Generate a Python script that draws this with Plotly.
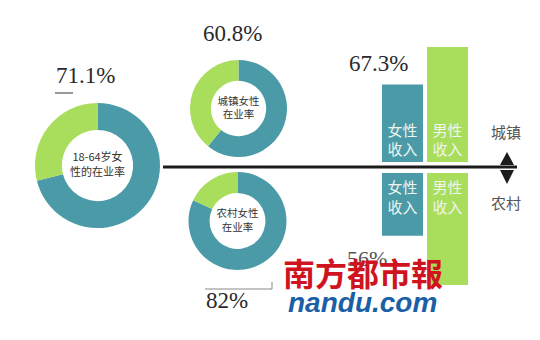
import plotly.graph_objects as go

# ---- data ----
overall_rate = [71.1, 28.9]      # 18-64岁女性在业率 (in work / not)
urban_rate = [60.8, 39.2]        # 城镇女性在业率
rural_rate = [82.0, 18.0]        # 农村女性在业率
income_cats = ["女性收入", "男性收入"]
income_text = ["女性<br>收入", "男性<br>收入"]
urban_income = [67.3, 100]       # 城镇 女性收入 / 男性收入 (%)
rural_income = [56.0, 100]       # 农村 女性收入 / 男性收入 (%)

TEAL = "#4b9aa8"
GREEN = "#a9dd5c"
W, H = 540, 340

def px(x):
    return x / W

def py(y):
    return 1 - y / H

fig = go.Figure()

def donut(vals, x0, x1, y0, y1, label, fs):
    fig.add_trace(go.Pie(
        values=vals, sort=False, direction="clockwise", rotation=0,
        hole=0.57, marker=dict(colors=[TEAL, GREEN], line=dict(width=0)),
        textinfo="none", hoverinfo="skip", showlegend=False,
        domain=dict(x=[px(x0), px(x1)], y=[py(y1), py(y0)]),
        title=dict(text=label, position="middle center",
                   font=dict(family="Noto Sans CJK SC", size=fs, color="#333"))))

donut(overall_rate, 35, 160, 103, 228, "18-64岁女<br>性的在业率", 11)
donut(urban_rate, 190, 287, 60, 157, "城镇女性<br>在业率", 10.5)
donut(rural_rate, 188, 287, 172, 270, "农村女性<br>在业率", 10.5)

bar_font = dict(family="Noto Sans CJK SC", size=15, color="#eef5ee")
fig.add_trace(go.Bar(
    x=income_cats, y=urban_income, marker=dict(color=[TEAL, GREEN], line=dict(width=0)),
    text=income_text, textposition="inside", insidetextanchor="start",
    textfont=bar_font, hoverinfo="skip", showlegend=False, xaxis="x", yaxis="y"))
fig.add_trace(go.Bar(
    x=income_cats, y=rural_income, marker=dict(color=[TEAL, GREEN], line=dict(width=0)),
    text=income_text, textposition="inside", insidetextanchor="start",
    textfont=bar_font, hoverinfo="skip", showlegend=False, xaxis="x2", yaxis="y2"))

hidden = dict(visible=False, showgrid=False, zeroline=False, fixedrange=True)
fig.update_layout(
    width=W, height=H, margin=dict(l=0, r=0, t=0, b=0),
    paper_bgcolor="white", plot_bgcolor="rgba(0,0,0,0)",
    bargap=4 / 45,
    xaxis=dict(domain=[px(380), px(470)], anchor="y", **hidden),
    yaxis=dict(domain=[py(162), 1], range=[0, 162 / 1.15], anchor="x", **hidden),
    xaxis2=dict(domain=[px(380), px(470)], anchor="y2", **hidden),
    yaxis2=dict(domain=[0, py(173)], range=[167 / 1.12, 0], anchor="x2", **hidden),
)

# divider line and arrows
fig.add_shape(type="line", xref="paper", yref="paper",
              x0=px(163), x1=px(517), y0=py(167), y1=py(167),
              line=dict(color="#1c1c1c", width=3))
fig.add_shape(type="path", xref="paper", yref="paper",
              path=f"M {px(500)},{py(165)} L {px(514)},{py(165)} L {px(507)},{py(152)} Z",
              fillcolor="#1c1c1c", line=dict(width=0))
fig.add_shape(type="path", xref="paper", yref="paper",
              path=f"M {px(500)},{py(170)} L {px(514)},{py(170)} L {px(507)},{py(184)} Z",
              fillcolor="#1c1c1c", line=dict(width=0))
# small rules by the percentages
fig.add_shape(type="line", xref="paper", yref="paper",
              x0=px(55), x1=px(73), y0=py(93), y1=py(93),
              line=dict(color="#777", width=1.5))
fig.add_shape(type="line", xref="paper", yref="paper",
              x0=px(205), x1=px(272), y0=py(289), y1=py(289),
              line=dict(color="#888", width=1))
fig.add_shape(type="line", xref="paper", yref="paper",
              x0=px(272), x1=px(272), y0=py(289), y1=py(282),
              line=dict(color="#888", width=1))

serif = dict(family="Liberation Serif", size=23, color="#2a2a2a")

def note(text, x, y, font):
    fig.add_annotation(text=text, x=px(x), y=py(y), xref="paper", yref="paper",
                       showarrow=False, xanchor="center", yanchor="middle", font=font)

note(f"{overall_rate[0]}%", 85, 75, serif)
note(f"{urban_rate[0]}%", 232, 34, serif)
note(f"{urban_income[0]}%", 378, 63, serif)
note(f"{rural_rate[0]:.0f}%", 227, 300, serif)
note(f"{rural_income[0]:.0f}%", 367, 258, dict(family="Liberation Serif", size=22, color="#555"))

side = dict(family="Noto Sans CJK SC", size=15, color="#555")
note("城镇", 506, 132, side)
note("农村", 506, 202, side)

# newspaper watermark
note("南方都市報", 363, 272, dict(family="Noto Sans CJK SC", size=32, color="#d0141f", weight="bold"))
note("nandu.com", 362, 302, dict(family="Liberation Sans", size=28, color="#1b5fa6",
                                 weight="bold", style="italic"))

fig.write_html("out.html")
